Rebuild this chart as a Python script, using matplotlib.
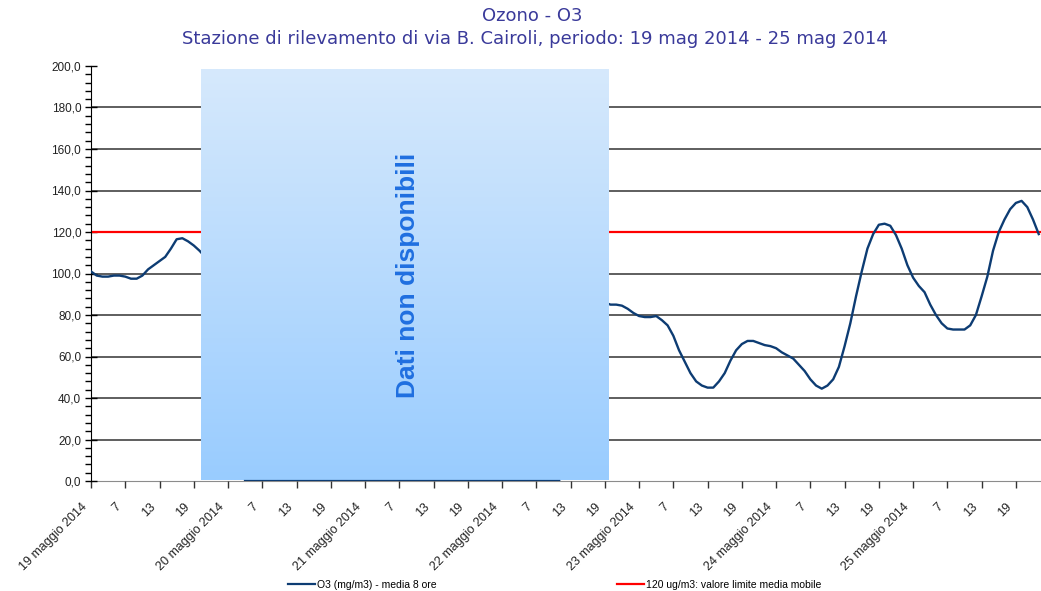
import numpy as np
import matplotlib
matplotlib.use("Agg")
import matplotlib.pyplot as plt
import matplotlib.transforms as mtrans
from matplotlib.lines import Line2D

# ---------------- data ----------------
title = "Ozono - O3"
subtitle = "Stazione di rilevamento di via B. Cairoli, periodo: 19 mag 2014 - 25 mag 2014"
series_label = "O3 (mg/m3) - media 8 ore"
limit_label = "120 ug/m3: valore limite media mobile"
limit_value = 120
gap_text = "Dati non disponibili"
gap_start_h = 19.3
gap_end_h = 90.7

# hourly 8h moving average, hour 0 = 19 maggio 2014 00:00
o3_day1 = [101, 99, 98.5, 98.5, 99, 99, 98.5, 97.5, 97.5, 99, 102, 104, 106, 108,
           112, 116.5, 117, 115.5, 113.5, 111, 108]                 # h0..h20
o3_missing_lead = [np.nan] * 6                                          # h21..h26
o3_zero = [0.0] * 56                                                    # h27..h82
o3_missing_trail = [np.nan] * 7                                         # h83..h89
o3_late = [86, 85, 85, 84.5, 83, 81, 79.5, 79, 79, 79.5, 77.5, 75, 70, 63, 57.5,
           52, 48, 46, 45, 45, 48, 52, 58, 63, 66, 67.5, 67.5, 66.5, 65.5, 65,
           64, 62, 60.5, 59, 56, 53, 49, 46, 44.5, 46, 49, 55, 65, 76, 89, 101,
           112, 119, 123.5, 124, 123, 118.5, 112, 104, 98, 94, 91, 85, 80, 76,
           73.5, 73, 73, 73, 75, 80, 89, 98.5, 111, 120, 126, 131, 134, 135,
           132, 126, 119]                                               # h90..h166
o3 = np.array(o3_day1 + o3_missing_lead + o3_zero + o3_missing_trail + o3_late, dtype=float)
hours = np.arange(len(o3))

day_labels = ["19 maggio 2014", "20 maggio 2014", "21 maggio 2014", "22 maggio 2014",
              "23 maggio 2014", "24 maggio 2014", "25 maggio 2014"]
hour_labels = ["7", "13", "19"]

# ---------------- figure ----------------
W, H = 1041, 591
fig = plt.figure(figsize=(W / 100, H / 100), dpi=100)
ax = fig.add_axes([91 / W, 1 - 481 / H, (1041 - 91) / W, (481 - 66) / H])
ax.set_xlim(0, 166.4)
ax.set_ylim(0, 200)

line_col = "#0d3c73"
title_col = "#3a3a9a"

# grid lines
for v in range(20, 200, 20):
    ax.axhline(v, color="#333333", lw=1.1, zorder=1)

ax.axhline(limit_value, color="#ff0000", lw=1.6, zorder=2)
ax.plot(hours, o3, color=line_col, lw=1.7, zorder=3, solid_joinstyle="round")

# gradient box (missing data)
grad = np.linspace(0, 1, 256).reshape(-1, 1)
top = np.array([214, 233, 252]) / 255
bot = np.array([153, 204, 255]) / 255
img = top[None, None, :] * (1 - grad[:, :, None]) + bot[None, None, :] * grad[:, :, None]
ax.imshow(img, extent=[gap_start_h, gap_end_h, 0.7, 198.5], aspect="auto",
          origin="upper", zorder=4, interpolation="bilinear")
# data line at zero stays visible
ax.plot(hours, np.where(o3 == 0, 0.0, np.nan), color=line_col, lw=1.6, zorder=5)

ax.text(55.6, 99, gap_text, rotation=90, ha="center", va="center",
        fontsize=19, fontweight="bold", color="#1f6fe0",
        family=["Liberation Sans", "DejaVu Sans"], zorder=6)

# spines
for s in ["top", "right"]:
    ax.spines[s].set_visible(False)
ax.spines["left"].set_color("#000000")
ax.spines["bottom"].set_color("#8c8c8c")
ax.spines["bottom"].set_zorder(0)

# y ticks
ax.set_yticks(np.arange(0, 201, 20))
ax.set_yticklabels([f"{v:.1f}".replace(".", ",") for v in range(0, 201, 20)],
                   fontsize=8.5, family="Liberation Sans", color="#222222")
ax.set_yticks(np.arange(0, 201, 4), minor=True)
ax.tick_params(axis="y", which="major", direction="inout", length=8, width=1, pad=3)
ax.tick_params(axis="y", which="minor", direction="out", length=4, width=1)

# x ticks
xt = np.arange(0, 167, 6)
labels = []
for t in xt:
    d, h = divmod(int(t), 24)
    labels.append(day_labels[d] if h == 0 else hour_labels[h // 6 - 1])
ax.set_xticks(xt)
ax.set_xticklabels(labels, rotation=45, ha="right", va="top", rotation_mode="anchor",
                   fontsize=9, family="Liberation Sans", color="#222222")
ax.tick_params(axis="x", which="major", direction="out", length=5, width=1,
               color="#333333", pad=8)
shift = mtrans.ScaledTranslation(-10 / 100, -2 / 100, fig.dpi_scale_trans)
for lbl in ax.get_xticklabels():
    lbl.set_transform(lbl.get_transform() + shift)

# titles
fig.text(532 / W, 1 - 16 / H, title, ha="center", va="center", fontsize=13,
         color=title_col, family="DejaVu Sans")
fig.text(535 / W, 1 - 39 / H, subtitle, ha="center", va="center", fontsize=13,
         color=title_col, family="DejaVu Sans")

# legend
h1 = Line2D([], [], color=line_col, lw=1.6)
h2 = Line2D([], [], color="#ff0000", lw=1.6)
for hnd, lab, x0 in [(h1, series_label, 288), (h2, limit_label, 617)]:
    lg = fig.legend(handles=[hnd], labels=[lab], loc="center left",
                    bbox_to_anchor=(x0 / W, 1 - 585 / H), frameon=False,
                    handlelength=2.6, handletextpad=0.15,
                    borderpad=0, borderaxespad=0,
                    prop={"family": "Liberation Sans", "size": 7.5})

fig.savefig("out.png", dpi=100)
